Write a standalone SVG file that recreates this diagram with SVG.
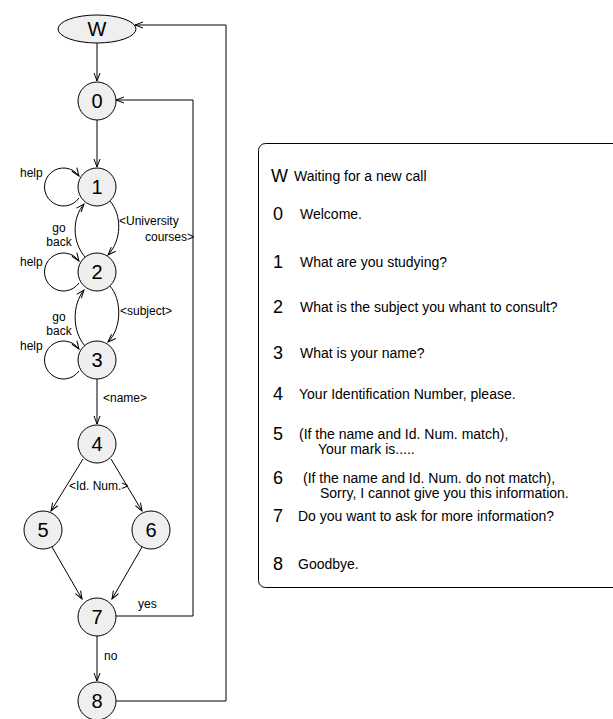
<svg xmlns="http://www.w3.org/2000/svg" width="613" height="719" viewBox="0 0 613 719">
<defs>
<marker id="arr" markerUnits="userSpaceOnUse" markerWidth="12" markerHeight="10" viewBox="-10 -5 12 10" refX="0" refY="0" orient="auto">
<path d="M-8,-3 L0,0 L-8,3" fill="none" stroke="#000" stroke-width="1"/>
</marker>
<style>
.n{fill:#efefef;stroke:#000;stroke-width:1}
.nl{font-family:"Liberation Sans",Arial,sans-serif;font-size:20px;fill:#000;text-anchor:middle}
.el{font-family:"Liberation Sans",Arial,sans-serif;font-size:12px;fill:#000}
.e{fill:none;stroke:#000;stroke-width:1}
.a{marker-end:url(#arr)}
.num{font-family:"Liberation Sans",Arial,sans-serif;font-size:18px;fill:#000}
.d{font-family:"Liberation Sans",Arial,sans-serif;font-size:14px;fill:#000}
</style>
</defs>
<rect width="613" height="719" fill="#fff"/>
<g id="connectors">
<path class="e a" d="M97,43 L97,81"/>
<path class="e a" d="M97,120 L97,167"/>
<path class="e a" d="M79,198 A19 19 0 1 1 79,176"/>
<path class="e a" d="M110,201 C122,215 122,240 108,255"/>
<path class="e a" d="M85,257 C72,242 72,218 84,204"/>
<path class="e a" d="M79,283 A19 19 0 1 1 79,261"/>
<path class="e a" d="M110,286 C122,300 122,328 108,342"/>
<path class="e a" d="M85,346 C72,331 72,305 84,290"/>
<path class="e a" d="M79,371 A19 19 0 1 1 79,349"/>
<path class="e a" d="M97,379 L97,424"/>
<path class="e a" d="M83,459 L51,511"/>
<path class="e a" d="M111,459 L142,511"/>
<path class="e a" d="M52,547 L82,599"/>
<path class="e a" d="M142,547 L112,599"/>
<path class="e a" d="M116,616 L193,616 L193,100 L116,100"/>
<path class="e a" d="M97,636 L97,681"/>
<path class="e a" d="M116,701 L226,701 L226,25 L135,25"/>
<text class="el" x="20" y="177">help</text>
<text class="el" x="20" y="266">help</text>
<text class="el" x="20" y="350">help</text>
<text class="el" x="119" y="225">&lt;University</text>
<text class="el" x="194" y="241" text-anchor="end">courses&gt;</text>
<text class="el" x="59" y="232" text-anchor="middle">go</text>
<text class="el" x="59" y="246" text-anchor="middle">back</text>
<text class="el" x="120" y="315">&lt;subject&gt;</text>
<text class="el" x="59" y="321" text-anchor="middle">go</text>
<text class="el" x="59" y="335" text-anchor="middle">back</text>
<text class="el" x="103" y="402">&lt;name&gt;</text>
<text class="el" x="69" y="490">&lt;Id. Num.&gt;</text>
<text class="el" x="138" y="608">yes</text>
<text class="el" x="104" y="660">no</text>
</g>
<g id="nW"><ellipse class="n" cx="97" cy="29" rx="39" ry="14"/><text class="nl" x="97" y="36">W</text></g>
<g id="n0"><circle class="n" cx="97" cy="101" r="19"/><text class="nl" x="97" y="108">0</text></g>
<g id="n1"><circle class="n" cx="97" cy="187" r="19"/><text class="nl" x="97" y="194">1</text></g>
<g id="n2"><circle class="n" cx="97" cy="272" r="19"/><text class="nl" x="97" y="279">2</text></g>
<g id="n3"><circle class="n" cx="97" cy="360" r="19"/><text class="nl" x="97" y="367">3</text></g>
<g id="n4"><circle class="n" cx="97" cy="444" r="19"/><text class="nl" x="97" y="451">4</text></g>
<g id="n5"><circle class="n" cx="43" cy="530" r="19"/><text class="nl" x="43" y="537">5</text></g>
<g id="n6"><circle class="n" cx="151" cy="530" r="19"/><text class="nl" x="151" y="537">6</text></g>
<g id="n7"><circle class="n" cx="97" cy="617" r="19"/><text class="nl" x="97" y="624">7</text></g>
<g id="n8"><circle class="n" cx="97" cy="701" r="19"/><text class="nl" x="97" y="708">8</text></g>
<g id="legend">
<rect x="258.5" y="143.5" width="380" height="444" rx="7" fill="none" stroke="#000" stroke-width="1"/>
<text class="num" x="271" y="182">W</text><text class="d" x="294" y="181">Waiting for a new call</text>
<text class="num" x="273" y="220">0</text><text class="d" x="300" y="219">Welcome.</text>
<text class="num" x="273" y="268">1</text><text class="d" x="300" y="267">What are you studying?</text>
<text class="num" x="273" y="313">2</text><text class="d" x="300" y="312">What is the subject you whant to consult?</text>
<text class="num" x="273" y="359">3</text><text class="d" x="300" y="358">What is your name?</text>
<text class="num" x="273" y="400">4</text><text class="d" x="299" y="399">Your Identification Number, please.</text>
<text class="num" x="273" y="440">5</text><text class="d" x="299" y="439">(If the name and Id. Num. match),</text>
<text class="d" x="318" y="454">Your mark is.....</text>
<text class="num" x="273" y="484">6</text><text class="d" x="303" y="483">(If the name and Id. Num. do not match),</text>
<text class="d" x="320" y="498">Sorry, I cannot give you this information.</text>
<text class="num" x="273" y="522">7</text><text class="d" x="298" y="521">Do you want to ask for more information?</text>
<text class="num" x="273" y="570">8</text><text class="d" x="298" y="569">Goodbye.</text>
</g>
</svg>
